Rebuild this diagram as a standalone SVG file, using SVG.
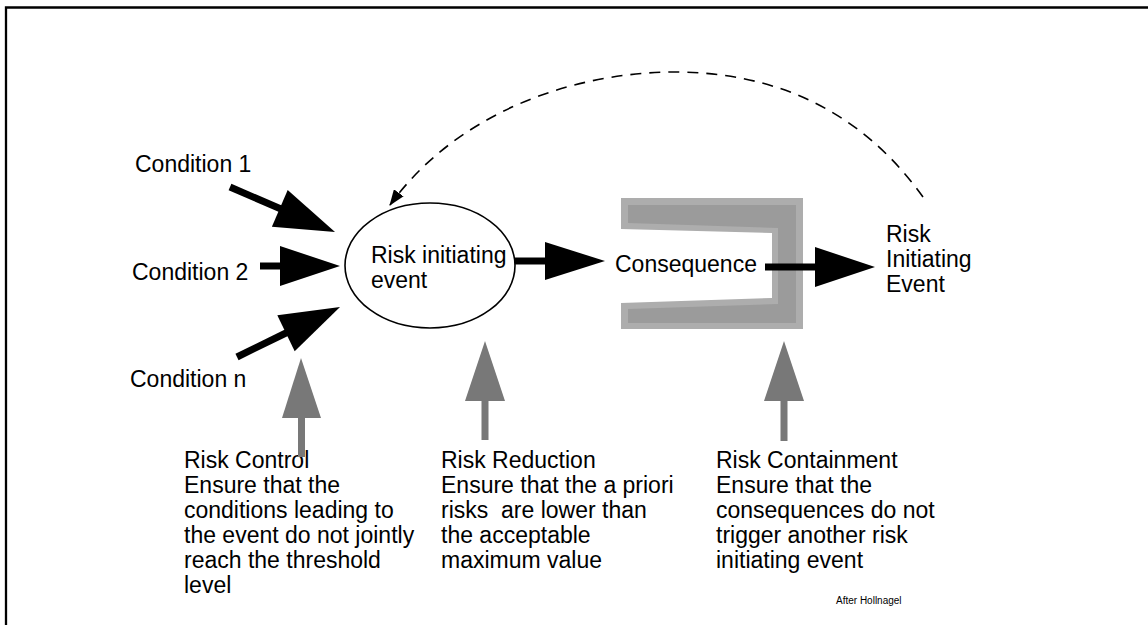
<svg xmlns="http://www.w3.org/2000/svg" width="1148" height="625" viewBox="0 0 1148 625">
  <style>
    text { font-family: "Liberation Sans", Arial, sans-serif; font-size: 23px; fill: #000; }
    .small { font-size: 10px; }
    .blk { fill: #000; }
    .blkline { stroke: #000; stroke-width: 7; fill: none; }
    .grey { fill: #787878; }
    .dash { stroke: #000; stroke-width: 1.6; fill: none; stroke-dasharray: 11 8; }
  </style>
  <defs>
    <marker id="arc-head" markerWidth="16" markerHeight="12" refX="15" refY="6" orient="auto" markerUnits="userSpaceOnUse">
      <path d="M0,0 L16,6 L0,12 Z" fill="#000"/>
    </marker>
  </defs>

  <rect width="1148" height="625" fill="#fff"/>
  <!-- frame (open towards right and bottom) -->
  <path d="M6,625 L6,7.5 L1148,7.5" fill="none" stroke="#000" stroke-width="2.3"/>

  <!-- conditions -->
  <g id="condition-1"><text x="135" y="172">Condition 1</text></g>
  <g id="condition-2"><text x="132" y="280">Condition 2</text></g>
  <g id="condition-n"><text x="130" y="387">Condition n</text></g>

  <!-- central event -->
  <g id="risk-event">
    <ellipse cx="430" cy="265.5" rx="85" ry="62.5" fill="#fff" stroke="#000" stroke-width="1.6"/>
    <text x="371" y="263">Risk initiating</text>
    <text x="371" y="288">event</text>
  </g>

  <!-- consequence container -->
  <g id="consequence">
    <polygon points="621,198 803,198 803,329 621,329 621,303 772,298 772,233 621,229" fill="#adadad"/>
    <polygon points="628,205 796,205 796,323 628,323 628,309 778,304 778,228 628,223" fill="#9b9b9b"/>
    <text x="615" y="272">Consequence</text>
  </g>

  <g id="next-event">
    <text x="886" y="242">Risk</text>
    <text x="886" y="267">Initiating</text>
    <text x="886" y="292">Event</text>
  </g>

  <!-- barriers -->
  <g id="risk-control">
    <text x="184" y="468">Risk Control</text>
    <text x="184" y="493">Ensure that the</text>
    <text x="184" y="518">conditions leading to</text>
    <text x="184" y="543">the event do not jointly</text>
    <text x="184" y="568">reach the threshold</text>
    <text x="184" y="593">level</text>
  </g>
  <g id="risk-reduction">
    <text x="441" y="468">Risk Reduction</text>
    <text x="441" y="493">Ensure that the a priori</text>
    <text x="441" y="518">risks&#160; are lower than</text>
    <text x="441" y="543">the acceptable</text>
    <text x="441" y="568">maximum value</text>
  </g>
  <g id="risk-containment">
    <text x="716" y="468">Risk Containment</text>
    <text x="716" y="493">Ensure that the</text>
    <text x="716" y="518">consequences do not</text>
    <text x="716" y="543">trigger another risk</text>
    <text x="716" y="568">initiating event</text>
  </g>
  <g id="credit"><text class="small" x="836" y="604">After Hollnagel</text></g>

  <g id="connectors">
    <!-- condition arrows -->
    <line class="blkline" x1="230" y1="187" x2="281" y2="209"/>
    <polygon class="blk" points="287.7,190 335,232 271.9,226.8"/>
    <line class="blkline" x1="260" y1="266" x2="282" y2="266"/>
    <polygon class="blk" points="280,246 340,266 280,286"/>
    <line class="blkline" x1="237" y1="357" x2="288" y2="332"/>
    <polygon class="blk" points="294.7,351.2 340,307 277.3,315.2"/>
    <!-- event to consequence -->
    <line class="blkline" x1="515" y1="261" x2="547" y2="261"/>
    <polygon class="blk" points="545,242 605,261 545,280"/>
    <!-- consequence to next event -->
    <line class="blkline" x1="765" y1="267" x2="817" y2="267"/>
    <polygon class="blk" points="815,247 875,267 815,287"/>
    <!-- barrier arrows -->
    <polygon class="grey" points="301,358 321,418 282,418"/>
    <rect class="grey" x="298" y="417" width="7" height="40"/>
    <polygon class="grey" points="485,341 505,401 465,401"/>
    <rect class="grey" x="481.5" y="400" width="7" height="40"/>
    <polygon class="grey" points="784,341 804,401 764,401"/>
    <rect class="grey" x="780.5" y="400" width="7" height="41"/>
    <!-- feedback loop -->
    <path class="dash" d="M923,197 C875,130 800,74 680,72 C570,71 455,115 390,205" marker-end="url(#arc-head)"/>
  </g>
</svg>
